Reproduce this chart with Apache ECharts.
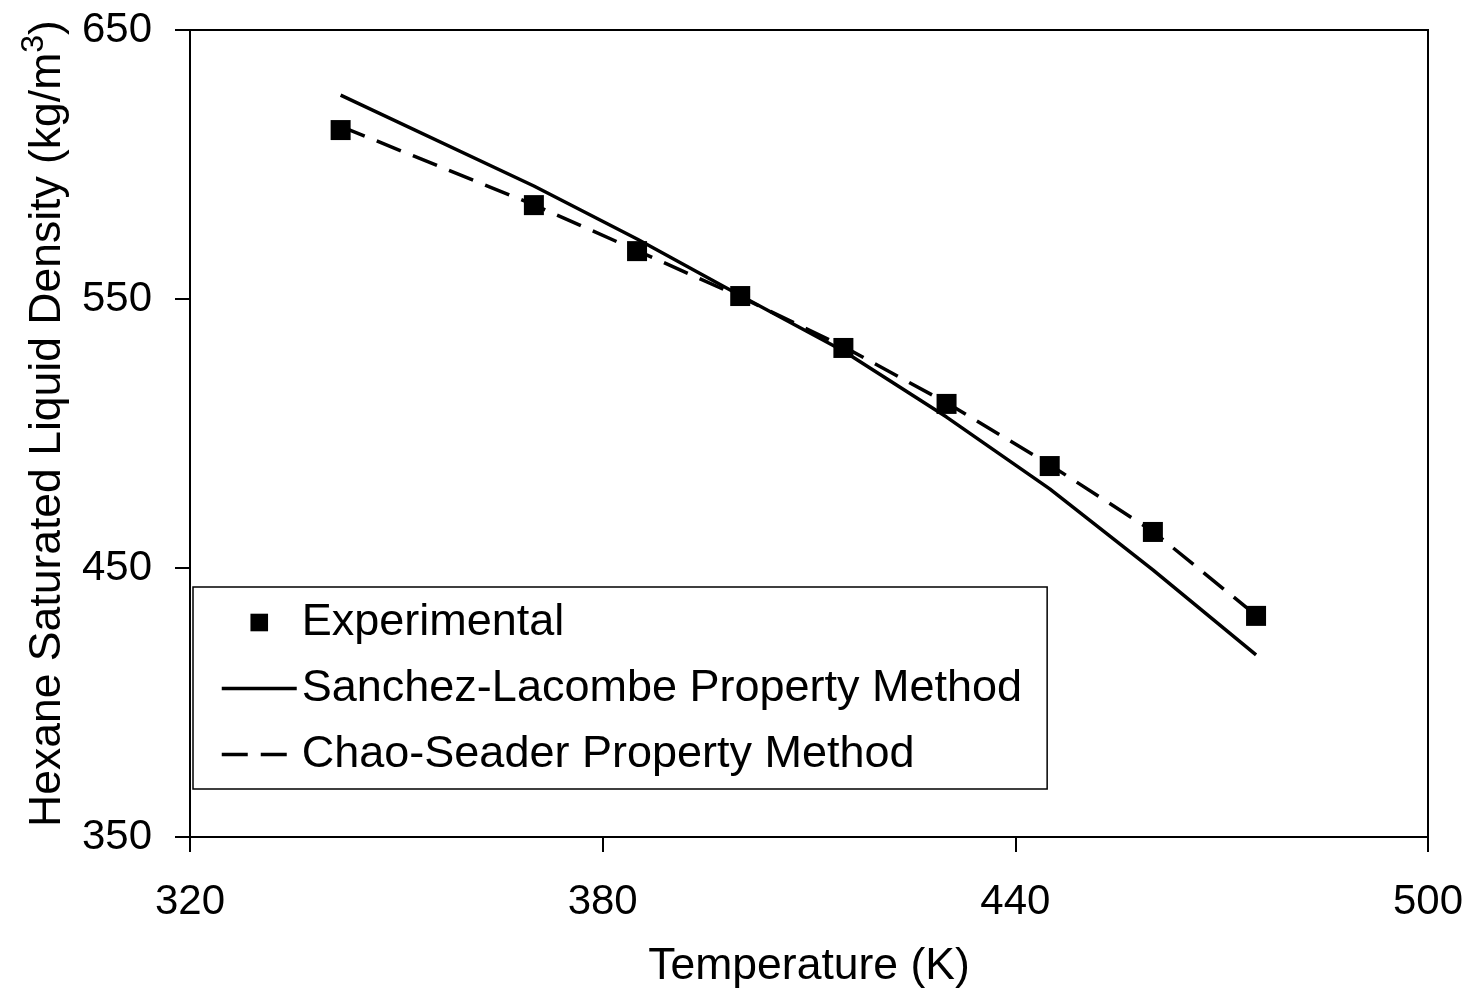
<!DOCTYPE html>
<html>
<head>
<meta charset="utf-8">
<title>Hexane Saturated Liquid Density</title>
<script src="https://cdn.jsdelivr.net/npm/echarts@6/dist/echarts.min.js"></script>
<style>
  html, body { margin: 0; padding: 0; background: #ffffff; }
  #chart { width: 1471px; height: 992px; }
</style>
</head>
<body>
<div id="chart"></div>
<script>
// Temperatures (K) at which density is reported
var temperature = [341.9, 370, 385, 400, 415, 430, 445, 460, 475];

// Saturated liquid density of hexane (kg/m3)
var experimental = [612.8, 584.9, 567.8, 551.1, 531.8, 511.0, 487.9, 463.4, 432.2];
var sanchezLacombe = [625.8, 592.0, 572.3, 551.3, 530.7, 506.1, 479.4, 449.3, 417.7];
var chaoSeader = [614.2, 585.0, 568.0, 550.8, 532.3, 511.4, 488.4, 463.6, 432.4];

var seriesNames = ['Experimental', 'Sanchez-Lacombe Property Method', 'Chao-Seader Property Method'];

// Axis ranges and tick spacing
var xMin = 320, xMax = 500, xStep = 60;
var yMin = 350, yMax = 650, yStep = 100;

function pairs(xs, ys) {
  return xs.map(function (x, i) { return [x, ys[i]]; });
}

var FONT = "'Liberation Sans', Arial, Helvetica, sans-serif";
var LINE_W = 3.5;

var chart = echarts.init(document.getElementById('chart'), null, { renderer: 'canvas' });

chart.setOption({
  animation: false,
  backgroundColor: '#ffffff',
  grid: {
    left: 190, right: 43, top: 30, bottom: 155,
    outerBoundsMode: 'none',
    containLabel: false,
    show: true, borderColor: '#000', borderWidth: 2, backgroundColor: 'transparent'
  },
  legend: {
    orient: 'vertical',
    left: 193, top: 587,
    padding: [13, 25, 12, 27],
    itemGap: 21,
    itemWidth: 75,
    itemHeight: 22,
    borderColor: '#000',
    borderWidth: 1.5,
    backgroundColor: '#fff',
    lineStyle: { width: LINE_W },
    textStyle: { fontFamily: FONT, fontSize: 45, color: '#000' },
    data: [
      // square marker only, no line through it
      { name: seriesNames[0], lineStyle: { width: 0, opacity: 0 } },
      // line only, no marker in the middle
      { name: seriesNames[1], itemStyle: { opacity: 0 } },
      { name: seriesNames[2], itemStyle: { opacity: 0 } }
    ]
  },
  xAxis: {
    type: 'value',
    min: xMin, max: xMax, interval: xStep,
    name: 'Temperature (K)',
    nameLocation: 'middle',
    nameGap: 107,
    nameTextStyle: { fontFamily: FONT, fontSize: 44.5, color: '#000' },
    axisLine: { show: true, onZero: false, lineStyle: { color: '#000', width: 2 } },
    axisTick: { show: true, inside: false, length: 15, lineStyle: { color: '#000', width: 2 } },
    axisLabel: { fontFamily: FONT, fontSize: 42, color: '#000', margin: 44 },
    splitLine: { show: false }
  },
  yAxis: {
    type: 'value',
    min: yMin, max: yMax, interval: yStep,
    name: 'Hexane Saturated Liquid Density (kg/m{sup|3})',
    nameLocation: 'middle',
    nameGap: 112,
    nameTextStyle: {
      fontFamily: FONT, fontSize: 44.5, color: '#000',
      padding: [0, 0, 0, 20],
      rich: {
        sup: { fontFamily: FONT, fontSize: 32, color: '#000', padding: [0, 0, 28, 0] }
      }
    },
    axisLine: { show: true, onZero: false, lineStyle: { color: '#000', width: 2 } },
    axisTick: { show: true, inside: false, length: 15, lineStyle: { color: '#000', width: 2 } },
    axisLabel: { fontFamily: FONT, fontSize: 42, color: '#000', margin: 38 },
    splitLine: { show: false }
  },
  series: [
    {
      name: seriesNames[1],
      type: 'line',
      data: pairs(temperature, sanchezLacombe),
      showSymbol: false,
      symbol: 'none',
      lineStyle: { color: '#000', width: LINE_W, type: 'solid' },
      itemStyle: { color: '#000' },
      z: 2
    },
    {
      name: seriesNames[2],
      type: 'line',
      data: pairs(temperature, chaoSeader),
      showSymbol: false,
      symbol: 'none',
      lineStyle: { color: '#000', width: LINE_W, type: [26, 13] },
      itemStyle: { color: '#000' },
      z: 3
    },
    {
      // measured points: square markers, connecting line hidden
      name: seriesNames[0],
      type: 'line',
      data: pairs(temperature, experimental),
      showSymbol: true,
      showAllSymbol: true,
      symbol: 'rect',
      symbolSize: 20,
      lineStyle: { color: '#000', width: 0, opacity: 0 },
      itemStyle: { color: '#000', opacity: 1 },
      z: 4
    }
  ]
});
</script>
</body>
</html>
